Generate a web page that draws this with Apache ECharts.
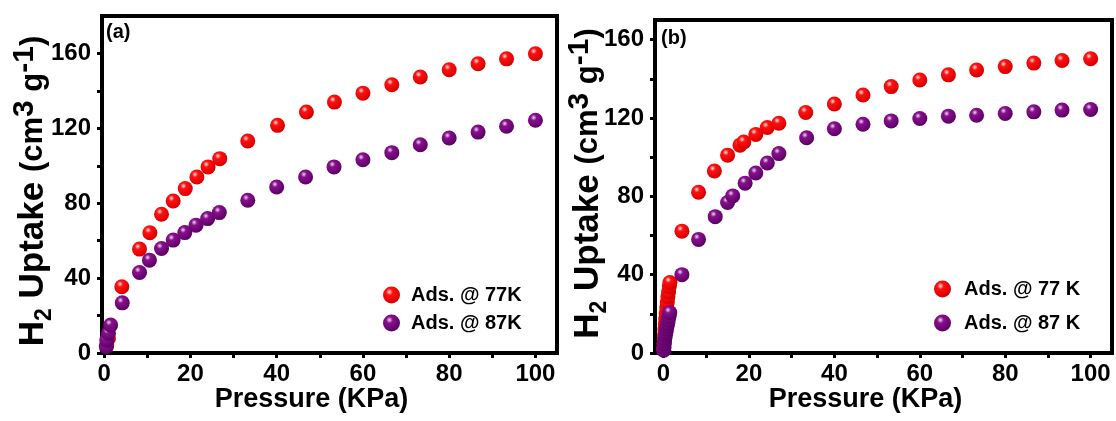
<!DOCTYPE html>
<html>
<head>
<meta charset="utf-8">
<script src="https://cdn.jsdelivr.net/npm/echarts@6/dist/echarts.min.js"></script>
<style>
  html, body { margin: 0; padding: 0; background: #fff; }
  #chart { width: 1116px; height: 421px; }
</style>
</head>
<body>
<div id="chart"></div>
<script>
// Panel (a): H2 adsorption isotherms
const pressureA77 = [0.6, 1.0, 4.1, 8.2, 10.6, 13.3, 16.0, 18.8, 21.5, 24.1, 26.8, 33.3, 40.2, 46.9, 53.4, 60.0, 66.7, 73.3, 80.0, 86.7, 93.3, 100.0];
const uptakeA77   = [4.3, 7.8, 35.4, 55.5, 64.2, 74.1, 81.2, 87.8, 94.0, 99.4, 103.8, 113.2, 121.6, 128.7, 134.0, 138.8, 143.3, 147.4, 151.3, 154.5, 157.1, 159.8];
const pressureA87 = [0.5, 0.6, 1.0, 1.5, 4.2, 8.2, 10.5, 13.3, 16.0, 18.7, 21.3, 24.0, 26.7, 33.3, 40.0, 46.7, 53.3, 60.0, 66.7, 73.3, 80.0, 86.7, 93.3, 100.0];
const uptakeA87   = [3.4, 6.9, 10.5, 14.9, 26.8, 43.0, 49.6, 55.8, 60.3, 64.3, 68.3, 71.8, 75.0, 81.6, 88.7, 94.0, 99.4, 103.2, 107.0, 111.2, 114.8, 118.0, 121.1, 124.3];

// Panel (b): H2 adsorption isotherms
const pressureB77 = [0.05, 0.1, 0.18, 0.25, 0.32, 0.42, 0.5, 0.62, 0.75, 0.88, 1.02, 1.18, 1.35, 1.5, 4.3, 8.2, 11.9, 15.0, 17.9, 18.8, 21.6, 24.3, 27.0, 33.3, 40.0, 46.7, 53.3, 60.0, 66.7, 73.3, 80.0, 86.7, 93.3, 100.0];
const uptakeB77   = [2.2, 4.6, 6.9, 9.5, 12.0, 14.8, 17.5, 20.3, 23.1, 25.8, 28.7, 31.2, 33.9, 36.0, 62.2, 82.1, 92.9, 101.0, 106.1, 107.7, 111.6, 115.1, 117.3, 122.8, 127.1, 131.7, 136.0, 139.4, 142.0, 144.5, 146.2, 148.0, 149.3, 150.2];
const pressureB87 = [0.05, 0.1, 0.16, 0.24, 0.33, 0.44, 0.56, 0.7, 0.84, 0.98, 1.12, 1.28, 1.45, 4.3, 8.2, 12.1, 15.0, 16.2, 19.1, 21.6, 24.3, 27.0, 33.5, 40.0, 46.7, 53.3, 60.0, 66.7, 73.3, 80.0, 86.7, 93.3, 100.0];
const uptakeB87   = [1.4, 2.9, 4.6, 6.1, 7.7, 9.2, 10.6, 12.3, 13.8, 15.2, 16.9, 18.6, 20.6, 40.0, 58.0, 69.6, 76.8, 80.2, 86.7, 91.9, 97.0, 101.8, 109.9, 114.5, 116.8, 118.5, 119.7, 120.9, 121.4, 122.3, 123.1, 124.0, 124.3];

const xTicks = [0, 10, 20, 30, 40, 50, 60, 70, 80, 90, 100];
const xLabels = [0, 20, 40, 60, 80, 100];
const yTicks = [0, 20, 40, 60, 80, 100, 120, 140, 160];
const yLabels = [0, 40, 80, 120, 160];

const legendA = ['Ads. @ 77K', 'Ads. @ 87K'];
const legendB = ['Ads. @ 77 K', 'Ads. @ 87 K'];

const FONT = '"Liberation Sans", Arial, sans-serif';

function sphere(hi, mid, dark) {
  return {
    type: 'radial', x: 0.38, y: 0.32, r: 0.7,
    colorStops: [
      { offset: 0, color: hi },
      { offset: 0.28, color: mid },
      { offset: 1, color: dark }
    ]
  };
}
const RED = sphere('#ffe4e4', '#ff1010', '#d40000');
const PURPLE = sphere('#f2d6f6', '#86108c', '#5c0064');

function zip(xs, ys) { return xs.map((x, i) => [x, ys[i]]); }

function xAxisFor(gridIndex, min) {
  return {
    type: 'value', gridIndex, min, max: 105,
    name: 'Pressure (KPa)', nameLocation: 'middle', nameGap: 33,
    nameMoveOverlap: false,
    nameTextStyle: { fontFamily: FONT, fontSize: 27, fontWeight: 'bold', color: '#000', padding: [0, 36, 0, 0] },
    axisLine: { show: true, onZero: false, lineStyle: { color: '#000', width: 4 } },
    axisTick: { show: true, inside: false, length: 5, customValues: xTicks, lineStyle: { color: '#000', width: 3 } },
    axisLabel: { customValues: xLabels, margin: 9, fontFamily: FONT, fontSize: 24, fontWeight: 'bold', color: '#000' },
    splitLine: { show: false }
  };
}

// padding shifts the rotated title along the axis: right padding moves it down, left moves it up
function yAxisFor(gridIndex, max, gap, padding) {
  const base = { fontFamily: FONT, fontWeight: 'bold', color: '#000' };
  return {
    type: 'value', gridIndex, min: 0, max,
    name: '{m|H}{sub|2}{m| Uptake }{s|(cm}{sup|3}{s| g}{sup|-1}{s|)}',
    nameLocation: 'middle', nameGap: gap, nameRotate: 90,
    nameMoveOverlap: false,
    nameTextStyle: {
      color: '#000',
      padding,
      rich: {
        m: Object.assign({ fontSize: 35, lineHeight: 46, verticalAlign: 'middle' }, base),
        s: Object.assign({ fontSize: 31, lineHeight: 46, verticalAlign: 'middle' }, base),
        sub: Object.assign({ fontSize: 23, lineHeight: 27, verticalAlign: 'bottom' }, base),
        sup: Object.assign({ fontSize: 30, lineHeight: 27, verticalAlign: 'top' }, base)
      }
    },
    axisLine: { show: true, onZero: false, lineStyle: { color: '#000', width: 4 } },
    axisTick: { show: true, inside: false, length: 5, customValues: yTicks, lineStyle: { color: '#000', width: 3 } },
    axisLabel: { customValues: yLabels, margin: 11, fontFamily: FONT, fontSize: 24, fontWeight: 'bold', color: '#000' },
    splitLine: { show: false }
  };
}

function scatter(name, xi, yi, xs, ys, color) {
  return {
    type: 'scatter', name, xAxisIndex: xi, yAxisIndex: yi,
    data: zip(xs, ys), symbol: 'circle', symbolSize: 15,
    itemStyle: { color, opacity: 1 },
    emphasis: { disabled: true },
    clip: true
  };
}

const chart = echarts.init(document.getElementById('chart'), null, { renderer: 'canvas' });
chart.setOption({
  animation: false,
  backgroundColor: '#fff',
  grid: [
    { left: 102, right: 559, top: 16, bottom: 68, show: true, borderColor: '#000', borderWidth: 4, backgroundColor: 'transparent' },
    { left: 655, right: 4, top: 20, bottom: 68, show: true, borderColor: '#000', borderWidth: 4, backgroundColor: 'transparent' }
  ],
  xAxis: [xAxisFor(0, -0.5), xAxisFor(1, -2)],
  yAxis: [yAxisFor(0, 180, 46, [0, 13, 0, 0]), yAxisFor(1, 170, 44, [0, 0, 0, 6])],
  legend: [
    {
      data: legendA, left: 378, top: 280, orient: 'vertical', itemGap: 8,
      itemWidth: 17, itemHeight: 17, icon: 'circle',
      textStyle: { fontFamily: FONT, fontSize: 20, fontWeight: 'bold', color: '#000', padding: [0, 0, 0, 6] }
    },
    {
      data: legendB, left: 929, top: 274, orient: 'vertical', itemGap: 14,
      itemWidth: 17, itemHeight: 17, icon: 'circle',
      textStyle: { fontFamily: FONT, fontSize: 20, fontWeight: 'bold', color: '#000', padding: [0, 0, 0, 8] }
    }
  ],
  graphic: [
    { type: 'text', left: 106, top: 22, style: { text: '(a)', font: 'bold 20px ' + FONT, fill: '#000' } },
    { type: 'text', left: 661, top: 28, style: { text: '(b)', font: 'bold 20px ' + FONT, fill: '#000' } }
  ],
  series: [
    scatter(legendA[0], 0, 0, pressureA77, uptakeA77, RED),
    scatter(legendA[1], 0, 0, pressureA87, uptakeA87, PURPLE),
    scatter(legendB[0], 1, 1, pressureB77, uptakeB77, RED),
    scatter(legendB[1], 1, 1, pressureB87, uptakeB87, PURPLE)
  ]
});
</script>
</body>
</html>
